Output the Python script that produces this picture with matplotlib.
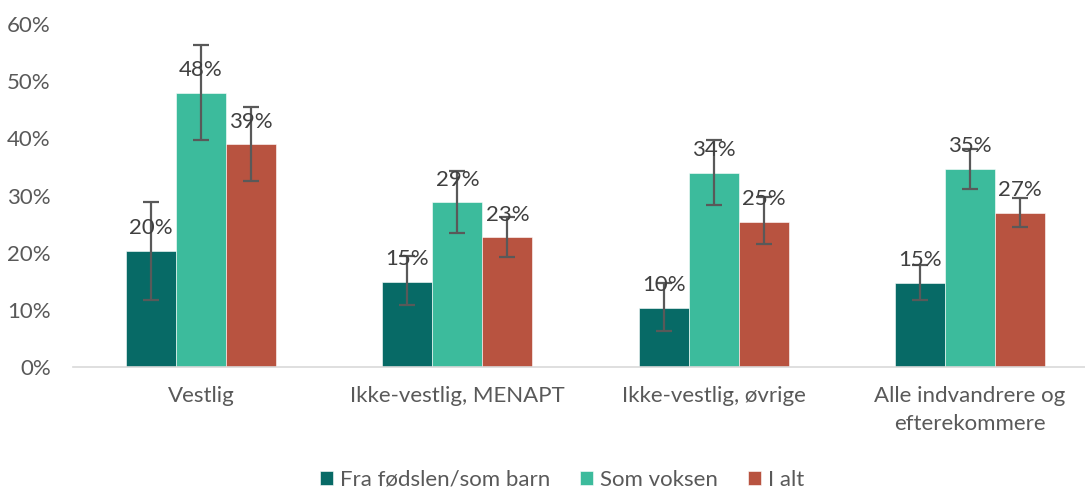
import matplotlib.pyplot as plt
import numpy as np
from matplotlib.ticker import PercentFormatter

plt.rcParams["font.family"] = ["Lato", "DejaVu Sans"]

categories = ["Vestlig", "Ikke-vestlig, MENAPT", "Ikke-vestlig, øvrige",
              "Alle indvandrere og\nefterekommere"]
series_names = ["Fra fødslen/som barn", "Som voksen", "I alt"]
values = [
    [20.3, 14.9, 10.4, 14.7],
    [48.0, 28.8, 34.0, 34.7],
    [39.0, 22.7, 25.4, 27.0],
]
err_low = [
    [11.8, 10.8, 6.3, 11.8],
    [39.7, 23.5, 28.3, 31.1],
    [32.5, 19.3, 21.5, 24.5],
]
err_high = [
    [28.9, 19.4, 14.7, 17.8],
    [56.3, 34.3, 39.7, 38.2],
    [45.4, 26.3, 29.7, 29.5],
]
colors = ["#076A66", "#3CBB9C", "#B85340"]

fig = plt.figure(figsize=(10.85, 4.88), dpi=100)
ax = fig.add_axes([73 / 1085, 121 / 488, 1025 / 1085, 343 / 488])

x = np.arange(len(categories))
width = 0.195
for i, (name, vals) in enumerate(zip(series_names, values)):
    vals = np.array(vals)
    pos = x + (i - 1) * width
    yerr = [vals - np.array(err_low[i]), np.array(err_high[i]) - vals]
    ax.bar(pos, vals, width, color=colors[i], label=name,
           edgecolor="white", linewidth=0.4)
    ax.errorbar(pos, vals, yerr=yerr, fmt="none", ecolor="#595959",
                elinewidth=1.6, capsize=6, capthick=1.6)
    for p, v in zip(pos, vals):
        ax.annotate(f"{v:.0f}%", (p, v), xytext=(0, 9), textcoords="offset points",
                    ha="center", va="bottom", fontsize=16, color="#404040")

ax.set_xlim(-0.5, 3.5)
ax.set_ylim(0, 60)
ax.set_yticks(range(0, 61, 10))
ax.yaxis.set_major_formatter(PercentFormatter(decimals=0))
ax.set_xticks(x)
ax.set_xticklabels(categories, linespacing=1.5)
ax.tick_params(axis="both", length=0, labelsize=16, colors="#595959", pad=14)
ax.tick_params(axis="y", pad=16)
for side in ["top", "right", "left"]:
    ax.spines[side].set_visible(False)
ax.spines["bottom"].set_color("#D9D9D9")
ax.spines["bottom"].set_linewidth(1.2)

fig.legend(loc="center", bbox_to_anchor=(562 / 1085, 8 / 488), ncol=3, frameon=False,
           fontsize=16, labelcolor="#595959", handlelength=0.6, handleheight=0.6,
           columnspacing=1.35, handletextpad=0.3)

fig.savefig("out.png", dpi=100)
